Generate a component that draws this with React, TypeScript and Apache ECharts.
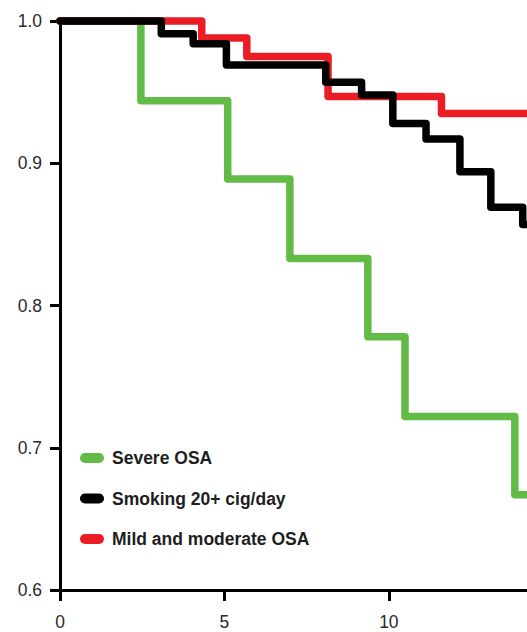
import React, { useEffect, useRef } from "react";
import * as echarts from "echarts";

const severeTimes = [0, 2.46, 5.1, 6.99, 9.36, 10.49, 13.83, 14.2];
const severeValues = [1.0, 0.944, 0.889, 0.833, 0.778, 0.722, 0.667, 0.667];

const smokingTimes = [0, 3.08, 4.05, 5.06, 8.08, 9.17, 10.12, 11.13, 12.16, 13.1, 14.07, 14.2];
const smokingValues = [1.0, 0.991, 0.984, 0.969, 0.957, 0.948, 0.928, 0.917, 0.894, 0.869, 0.857, 0.857];

const mildTimes = [0, 4.31, 5.68, 8.15, 11.6, 14.2];
const mildValues = [1.0, 0.988, 0.975, 0.947, 0.935, 0.935];

const seriesNames = ["Severe OSA", "Smoking 20+ cig/day", "Mild and moderate OSA"];
const xTicks = { min: 0, max: 14.2, interval: 5 };
const yTicks = { min: 0.6, max: 1.0, interval: 0.1 };

const FONT = "'Liberation Sans', Arial, Helvetica, sans-serif";

const pair = (xs: number[], ys: number[]) => xs.map((x, i) => [x, ys[i]]);

export default function App() {
  const ref = useRef<HTMLDivElement>(null);
  useEffect(() => {
    if (!ref.current) return;
    const chart = echarts.init(ref.current, undefined, { renderer: "svg" });
    const lineSeries = (name: string, data: number[][], color: string) => ({
      name,
      type: "line",
      step: "end",
      data,
      showSymbol: false,
      symbol: "none",
      clip: false,
      color,
      lineStyle: { color, width: 7.5, cap: "round", join: "round" },
    });
    chart.setOption({
      animation: false,
      backgroundColor: "#ffffff",
      grid: { left: 60, top: 21, right: 0, bottom: 42, containLabel: false },
      legend: {
        data: seriesNames,
        orient: "vertical",
        left: 75,
        top: 443,
        itemWidth: 24,
        itemHeight: 10,
        itemGap: 20.5,
        icon: "path://M5,0 L19,0 A5,5 0 0 1 19,10 L5,10 A5,5 0 0 1 5,0 Z",
        textStyle: {
          fontFamily: FONT,
          fontSize: 17.5,
          fontWeight: "bold",
          color: "#1e1e1e",
          lineHeight: 20,
          padding: [0, 0, 0, 3],
        },
      },
      xAxis: {
        type: "value",
        min: xTicks.min,
        max: xTicks.max,
        interval: xTicks.interval,
        splitLine: { show: false },
        axisLine: { show: true, onZero: false, lineStyle: { color: "#000", width: 3 } },
        axisTick: { show: true, length: 11, lineStyle: { color: "#000", width: 3 } },
        axisLabel: {
          showMaxLabel: false,
          margin: 23,
          color: "#2a2a2a",
          fontSize: 17.5,
          fontFamily: FONT,
        },
      },
      yAxis: {
        type: "value",
        min: yTicks.min,
        max: yTicks.max,
        interval: yTicks.interval,
        splitLine: { show: false },
        axisLine: { show: true, onZero: false, lineStyle: { color: "#000", width: 3 } },
        axisTick: { show: true, length: 10, lineStyle: { color: "#000", width: 3 } },
        axisLabel: {
          margin: 18,
          color: "#2a2a2a",
          fontSize: 17.5,
          fontFamily: FONT,
          formatter: (v: number) => v.toFixed(1),
        },
      },
      series: [
        lineSeries(seriesNames[0], pair(severeTimes, severeValues), "#62bb46"),
        lineSeries(seriesNames[2], pair(mildTimes, mildValues), "#ec1c24"),
        lineSeries(seriesNames[1], pair(smokingTimes, smokingValues), "#000000"),
      ],
    });
    return () => chart.dispose();
  }, []);
  return (
    <div
      ref={ref}
      style={{ position: "fixed", left: 0, top: 0, width: 527, height: 632, background: "#fff" }}
    />
  );
}
